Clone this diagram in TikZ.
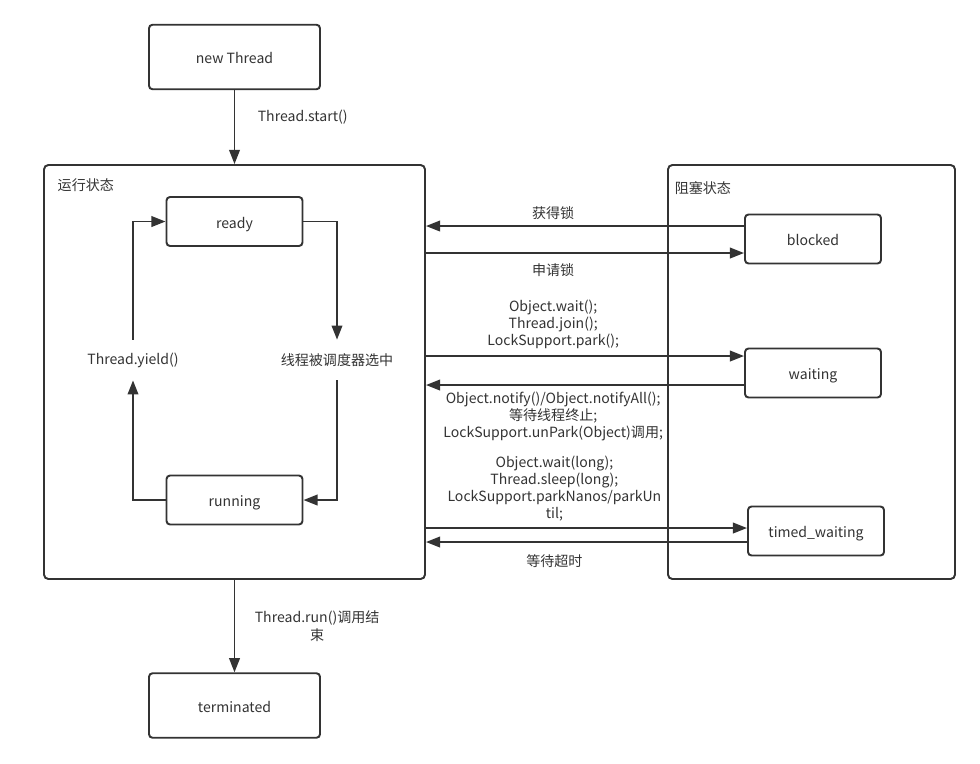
\documentclass[tikz,border=0pt]{standalone}
\usepackage{fontspec}
\setmainfont{Noto Sans CJK SC}
\usetikzlibrary{shapes, arrows.meta, positioning}

\begin{document}
\begin{tikzpicture}[node distance=3cm and 5cm, on grid, font=\fontsize{8}{9.7}\selectfont, >={Triangle[length=8pt, width=6pt]}]

\definecolor{my_line}{RGB}{51,51,51}
\definecolor{my_text}{RGB}{51,51,51}

\tikzstyle{statebox} = [rectangle, draw=my_line, line width=1.1pt, fill=white, text=my_text, rounded corners=2pt, minimum width=2.72cm, minimum height=0.98cm, text height=1.8ex, text depth=0.4ex]
\tikzstyle{endstate} = [statebox, minimum width=3.42cm, minimum height=1.29cm]
\tikzstyle{groupbox} = [rectangle, draw=my_line, line width=1.1pt, rounded corners=2.5pt, minimum height=8.28cm]
\tikzstyle{grouptitle} = [text=my_text, anchor=west]
\tikzstyle{lbl} = [text=my_text, align=center]
\tikzstyle{line} = [draw=my_line, line width=1.1pt]

	\useasboundingbox (0,0) rectangle (19.6,-15.26);

	\node [endstate] (new_thread) at (4.69,-1.14) {new Thread};

	\node [groupbox, minimum width=7.62cm, below=6.3cm of new_thread] (running_group) {};
	\node [grouptitle] (running_title) at ([xshift=0.17cm, yshift=-0.42cm] running_group.north west) {运行状态};

	\node [endstate, below=6.67cm of running_group] (terminated) {terminated};

	\node [statebox, above=3.01cm of running_group] (ready) {ready};
	\node [statebox, below=2.56cm of running_group] (running) {running};

	\node [lbl, minimum height=0.8cm, above left=0.24cm and 2.03cm of running_group] (yield_label) {Thread.yield()};
	\node [lbl, minimum height=0.8cm, above right=0.24cm and 2.05cm of running_group] (sched_label) {线程被调度器选中};

	\node [groupbox, minimum width=5.74cm, right=11.54cm of running_group] (blocked_group) {};
	\node [grouptitle] (blocked_title) at ([xshift=0.03cm, yshift=-0.48cm] blocked_group.north west) {阻塞状态};

	\node [statebox, above right=2.66cm and 0.03cm of blocked_group] (blocked) {blocked};
	\node [statebox, below right=0.02cm and 0.03cm of blocked_group] (waiting) {waiting};
	\node [statebox, below right=3.18cm and 0.09cm of blocked_group] (timed_waiting) {timed\_waiting};

	\coordinate (blocked_out) at ([yshift=0.26cm]blocked.west);
	\coordinate (blocked_in) at ([yshift=-0.28cm]blocked.west);
	\coordinate (waiting_in) at ([yshift=0.34cm]waiting.west);
	\coordinate (waiting_out) at ([yshift=-0.24cm]waiting.west);
	\coordinate (timed_in) at ([yshift=0.06cm]timed_waiting.west);
	\coordinate (timed_out) at ([yshift=-0.22cm]timed_waiting.west);

	% main line
	\path [line, ->] (new_thread) -- node [lbl, right=0.33cm, pos=0.36] {Thread.start()} (running_group);
	\path [line, ->] (running_group) -- node [lbl, right=0.27cm, midway] {Thread.run()调用结\\束} (terminated);

	% inside the running state
	\path [line, ->] (ready.east) -| (sched_label.north);
	\path [line, ->] (sched_label.south) |- (running.east);
	\path [line, ->] (running.west) -| (yield_label.south);
	\path [line, ->] (yield_label.north) |- (ready.west);

	% to and from the blocked states
	\path [line, ->] (blocked_out) -- node [lbl, above, pos=0.6] {获得锁} (blocked_out -| running_group.east);
	\path [line, ->] (running_group.east |- blocked_in) -- node [lbl, below=0.08cm, pos=0.4] {申请锁} (blocked_in);

	\path [line, ->] (running_group.east |- waiting_in) -- node [lbl, above, pos=0.4] {Object.wait();\\Thread.join();\\LockSupport.park();} (waiting_in);
	\path [line, ->] (waiting_out) -- node [lbl, below, pos=0.6] {Object.notify()/Object.notifyAll();\\等待线程终止;\\LockSupport.unPark(Object)调用;} (waiting_out -| running_group.east);

	\path [line, ->] (running_group.east |- timed_in) -- node [lbl, above, pos=0.4] {Object.wait(long);\\Thread.sleep(long);\\LockSupport.parkNanos/parkUn\\til;} (timed_in);
	\path [line, ->] (timed_out) -- node [lbl, below=0.12cm, pos=0.6] {等待超时} (timed_out -| running_group.east);

\end{tikzpicture}
\end{document}
